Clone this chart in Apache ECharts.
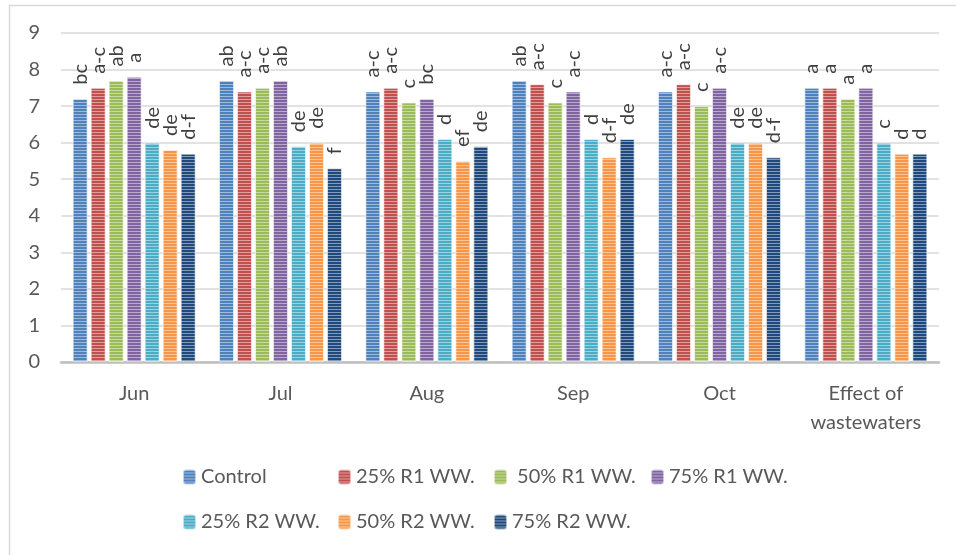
<!DOCTYPE html>
<html>
<head>
<meta charset="utf-8">
<script src="https://cdn.jsdelivr.net/npm/echarts@6/dist/echarts.min.js"></script>
<style>html,body{margin:0;padding:0;background:#fff}#c{width:956px;height:555px}</style>
</head>
<body>
<div id="c"></div>
<script>
var categories = ['Jun', 'Jul', 'Aug', 'Sep', 'Oct', 'Effect of\nwastewaters'];
var seriesNames = ['Control', '25% R1 WW.', ' 50% R1 WW.', '75% R1 WW.', '25% R2 WW.', '50% R2 WW.', '75% R2 WW.'];
var control   = [7.2, 7.7, 7.4, 7.7, 7.4, 7.5];
var r1_25     = [7.5, 7.4, 7.5, 7.6, 7.6, 7.5];
var r1_50     = [7.7, 7.5, 7.1, 7.1, 7.0, 7.2];
var r1_75     = [7.8, 7.7, 7.2, 7.4, 7.5, 7.5];
var r2_25     = [6.0, 5.9, 6.1, 6.1, 6.0, 6.0];
var r2_50     = [5.8, 6.0, 5.5, 5.6, 6.0, 5.7];
var r2_75     = [5.7, 5.3, 5.9, 6.1, 5.6, 5.7];
var lbl_control = ['bc', 'ab', 'a-c', 'ab', 'a-c', 'a'];
var lbl_r1_25   = ['a-c', 'a-c', 'a-c', 'a-c', 'a-c', 'a'];
var lbl_r1_50   = ['ab', 'a-c', 'c', 'c', 'c', 'a'];
var lbl_r1_75   = ['a', 'ab', 'bc', 'a-c', 'a-c', 'a'];
var lbl_r2_25   = ['de', 'de', 'd', 'd', 'de', 'c'];
var lbl_r2_50   = ['de', 'de', 'ef', 'd-f', 'de', 'd'];
var lbl_r2_75   = ['d-f', 'f', 'de', 'de', 'd-f', 'd'];
var yTicks = [0, 1, 2, 3, 4, 5, 6, 7, 8, 9];

var values = [control, r1_25, r1_50, r1_75, r2_25, r2_50, r2_75];
var letters = [lbl_control, lbl_r1_25, lbl_r1_50, lbl_r1_75, lbl_r2_25, lbl_r2_50, lbl_r2_75];
var colors = ['#4F81BD', '#C0504D', '#9BBB59', '#8064A2', '#4BACC6', '#F79646', '#1F497D'];
var FONT = 'Lato';
var TXT = '#595959';

var series = values.map(function (vals, i) {
  return {
    name: seriesNames[i],
    type: 'bar',
    barWidth: 15,
    barGap: '20%',
    data: vals.map(function (v, j) { return { value: v, lab: letters[i][j] }; }),
    itemStyle: {
      color: colors[i],
      borderColor: 'rgba(255,255,255,0.35)',
      borderWidth: 1,
      decal: { symbol: 'rect', symbolSize: 1, dashArrayX: [1, 0], dashArrayY: [1, 2], color: 'rgba(255,255,255,0.45)', rotation: 0 }
    },
    label: {
      show: true,
      position: 'top',
      rotate: 90,
      align: 'left',
      verticalAlign: 'middle',
      distance: 14,
      fontFamily: FONT,
      fontSize: 20,
      color: '#404040',
      formatter: function (p) { return p.data.lab; }
    }
  };
});

var legendCols = [182, 337, 493, 650];
var legends = seriesNames.map(function (n, i) {
  var row = i < 4 ? 0 : 1;
  var col = i < 4 ? i : i - 4;
  return {
    data: [n],
    left: legendCols[col],
    top: row === 0 ? 467 : 512,
    padding: 0,
    itemWidth: 13,
    itemHeight: 15,
    itemGap: 4,
    textStyle: { fontFamily: FONT, fontSize: 20, color: TXT },
    selectedMode: false
  };
});

var chart = echarts.init(document.getElementById('c'));
chart.setOption({
  animation: false,
  backgroundColor: '#fff',
  graphic: [{
    type: 'rect', shape: { x: 9.5, y: 5.5, width: 980, height: 600 },
    style: { fill: null, stroke: '#d9d9d9', lineWidth: 1.5 }, silent: true
  }],
  grid: { left: 61, right: 17, top: 33, bottom: 193 },
  legend: legends,
  xAxis: {
    type: 'category',
    data: categories,
    axisLine: { lineStyle: { color: '#bfbfbf', width: 2.5 } },
    axisTick: { show: false },
    axisLabel: { fontFamily: FONT, fontSize: 20, color: TXT, margin: 17, lineHeight: 29 }
  },
  yAxis: {
    type: 'value',
    min: yTicks[0],
    max: yTicks[yTicks.length - 1],
    interval: 1,
    axisLine: { show: false },
    axisTick: { show: false },
    axisLabel: { fontFamily: FONT, fontSize: 20, color: TXT, margin: 21 },
    splitLine: { lineStyle: { color: '#d9d9d9', width: 1.5 } }
  },
  series: series
});
</script>
</body>
</html>
